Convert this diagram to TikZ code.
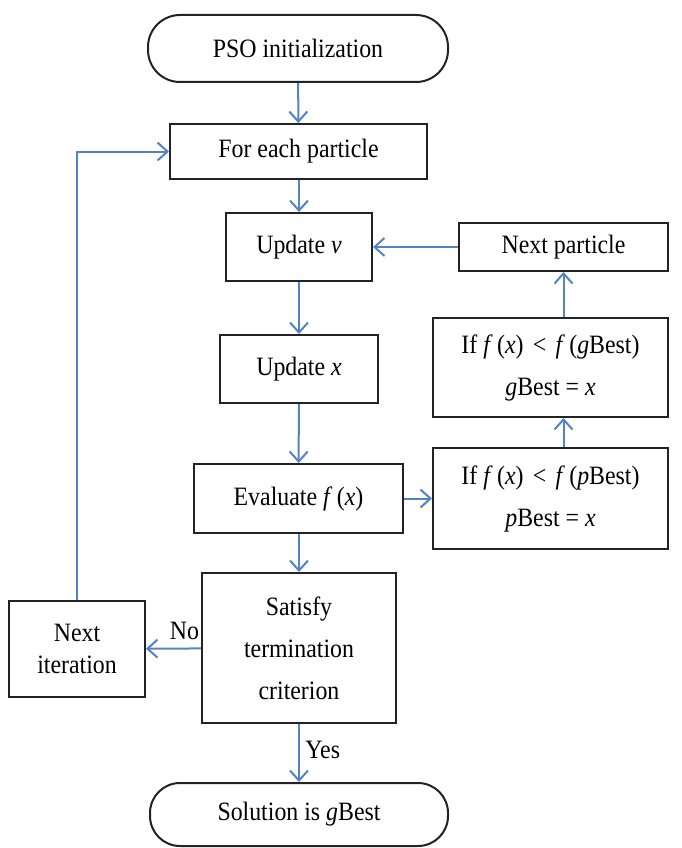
\documentclass[tikz,border=0pt]{standalone}
\usepackage{fontspec}
\setmainfont[FakeStretch=0.9]{Liberation Serif}
\usetikzlibrary{arrows.meta,calc}
\definecolor{arrowblue}{RGB}{84,130,196}
\definecolor{boxline}{RGB}{35,35,35}
\newcommand{\lessop}{\hspace{0.35em}<\hspace{0.35em}}
\begin{document}
\begin{tikzpicture}[x=1pt,y=-1pt,
  box/.style={draw=boxline,line width=2pt,inner sep=0pt,align=center,font=\fontsize{26.5}{42}\selectfont},
  term/.style={box,rounded corners=32pt},
  arr/.style={draw=arrowblue,line width=2pt,-{Straight Barb[length=10pt,width=18pt,line width=2pt]}},
  lab/.style={font=\fontsize{26.5}{28}\selectfont}]
\useasboundingbox[fill=white] (0,0) rectangle (681,848);
\node[term,minimum width=300pt,minimum height=67pt] (init) at (298,48.5) {PSO initialization};
\node[box,minimum width=257pt,minimum height=55pt] (each) at (298.5,151.5) {For each particle};
\node[box,minimum width=146pt,minimum height=68pt] (updv) at (299,247) {Update \textit{v}};
\node[box,minimum width=209pt,minimum height=48pt] (nextp) at (563.5,247) {Next particle};
\node[box,minimum width=158pt,minimum height=68pt] (updx) at (299,369) {Update \textit{x}};
\node[box,minimum width=209pt,minimum height=69pt] (eval) at (298.5,498.5) {Evaluate \textit{f\/}\,(\textit{x})};
\node[box,minimum width=235pt,minimum height=99pt] (gbest) at (550.5,367.5) {If \textit{f\/}\,(\textit{x})\lessop\textit{f\/}\,(\textit{g}Best)\\\textit{g}Best = \textit{x}};
\node[box,minimum width=235pt,minimum height=101pt] (pbest) at (550.5,498.5) {If \textit{f\/}\,(\textit{x})\lessop\textit{f\/}\,(\textit{p}Best)\\\textit{p}Best = \textit{x}};
\node[box,minimum width=194pt,minimum height=150pt] (sat) at (299,648) {Satisfy\\termination\\criterion};
\node[box,minimum width=136pt,minimum height=96pt,font=\fontsize{26.5}{32}\selectfont] (nexti) at (77,649) {Next\\iteration};
\node[term,minimum width=298pt,minimum height=63pt,rounded corners=30pt] (sol) at (299,814.5) {Solution is \textit{g}Best};
\draw[arr] (init) -- (each);
\draw[arr] (each.south -| updv.north) -- (updv.north);
\draw[arr] (updv) -- (updx);
\draw[arr] (updx) -- (eval);
\draw[arr] (eval.south -| sat.north) -- (sat.north);
\draw[arr] (eval) -- (pbest);
\draw[arr] (pbest.north -| nextp.south) -- (gbest.south -| nextp.south);
\draw[arr] (gbest.north -| nextp.south) -- (nextp.south);
\draw[arr] (nextp) -- (updv);
\draw[arr] (sat) -- node[lab,above,pos=0.3,yshift=4pt] (no) {No} (nexti);
\draw[arr] (nexti.north) |- (each.west);
\draw[arr] (sat) -- node[lab,right,pos=0.45,xshift=2pt] (yes) {Yes} (sol);
\end{tikzpicture}
\end{document}
